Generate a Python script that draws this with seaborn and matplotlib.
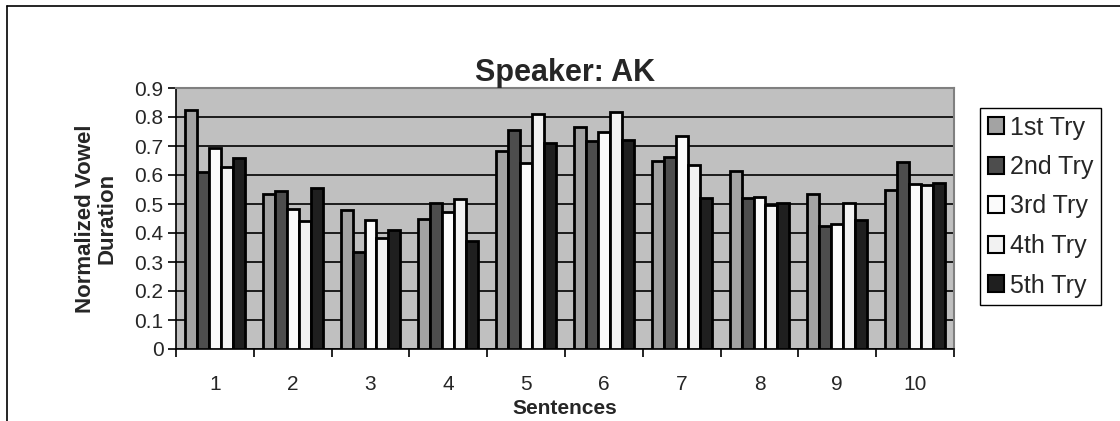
import matplotlib
matplotlib.use("Agg")
import matplotlib.pyplot as plt
import matplotlib.ticker as mticker
from matplotlib.lines import Line2D
import seaborn as sns
import pandas as pd

# Normalized vowel duration per sentence, one list per attempt
sentences = ["1", "2", "3", "4", "5", "6", "7", "8", "9", "10"]
tries = ["1st Try", "2nd Try", "3rd Try", "4th Try", "5th Try"]
try1 = [0.825, 0.534, 0.479, 0.447, 0.684, 0.767, 0.649, 0.613, 0.534, 0.548]
try2 = [0.609, 0.546, 0.333, 0.502, 0.755, 0.718, 0.663, 0.522, 0.423, 0.645]
try3 = [0.693, 0.483, 0.445, 0.472, 0.643, 0.747, 0.733, 0.523, 0.431, 0.568]
try4 = [0.626, 0.440, 0.383, 0.517, 0.810, 0.816, 0.636, 0.498, 0.503, 0.564]
try5 = [0.659, 0.555, 0.410, 0.371, 0.711, 0.721, 0.522, 0.505, 0.445, 0.572]
y_ticks = [0, 0.1, 0.2, 0.3, 0.4, 0.5, 0.6, 0.7, 0.8, 0.9]

colors = ["#a3a3a3", "#4d4d4d", "#fbfbfb", "#f2f2f2", "#1f1f1f"]

rows = []
for name, vals in zip(tries, [try1, try2, try3, try4, try5]):
    for s, v in zip(sentences, vals):
        rows.append({"Sentence": s, "Try": name, "Value": v})
df = pd.DataFrame(rows)

sns.set_theme(style="white")
plt.rcParams["font.family"] = ["Liberation Sans", "DejaVu Sans"]

fig = plt.figure(figsize=(11.2, 4.21), dpi=100)
ax = fig.add_axes([176 / 1120, 1 - 349 / 421, (954 - 176) / 1120, (349 - 88) / 421])
ax.set_facecolor("#c0c0c0")

sns.barplot(data=df, x="Sentence", y="Value", hue="Try", order=sentences,
            hue_order=tries, palette=colors, width=0.77, gap=0,
            edgecolor="black", linewidth=2, ax=ax, zorder=3, legend=True)

ax.set_ylim(0, 0.9)
ax.set_xlim(-0.5, len(sentences) - 0.5)
ax.set_yticks(y_ticks)
ax.set_yticklabels(["0" if t == 0 else f"{t:.1f}" for t in y_ticks], fontsize=15)
ax.yaxis.grid(True, color="black", linewidth=1.2, zorder=1)
ax.set_axisbelow(True)

# category ticks sit between groups, labels at group centres
ax.set_xticks(range(len(sentences)))
ax.set_xticklabels(sentences, fontsize=15)
ax.xaxis.set_minor_locator(mticker.FixedLocator([i - 0.5 for i in range(len(sentences) + 1)]))
ax.tick_params(axis="x", which="major", length=0, pad=19)
ax.tick_params(axis="x", which="minor", length=6, width=1.2, color="black", direction="out", bottom=True)
ax.tick_params(axis="y", which="major", length=6, width=1.2, color="black", direction="out", left=True, pad=3)

for side in ["left", "bottom"]:
    ax.spines[side].set_color("black")
    ax.spines[side].set_linewidth(1.2)
for side in ["top", "right"]:
    ax.spines[side].set_color("#808080")
    ax.spines[side].set_linewidth(1.5)

ax.set_xlabel("Sentences", fontsize=15, fontweight="bold", labelpad=3)
ax.set_ylabel("Normalized Vowel\nDuration", fontsize=16, fontweight="bold", labelpad=12,
              linespacing=1.05)
ax.set_title("Speaker: AK", fontsize=22, fontweight="bold", pad=5)

leg = ax.legend(loc="upper left", bbox_to_anchor=(980 / 1120, 1 - 108 / 421),
                bbox_transform=fig.transFigure, fontsize=18, frameon=True,
                fancybox=False, edgecolor="black", framealpha=1,
                handlelength=0.65, handleheight=0.65, handletextpad=0.25,
                labelspacing=0.62, borderpad=0.3, borderaxespad=0)
leg.get_frame().set_linewidth(1.0)
for h in leg.legend_handles:
    h.set_linewidth(1.5)

# outer chart border (top and left edges)
fig.add_artist(Line2D([7 / 1120, 7 / 1120], [0, 1 - 6 / 421], color="black", linewidth=1.2, transform=fig.transFigure))
fig.add_artist(Line2D([7 / 1120, 1], [1 - 6 / 421, 1 - 6 / 421], color="black", linewidth=1.2, transform=fig.transFigure))

fig.savefig("out.png", dpi=100, facecolor="white")
